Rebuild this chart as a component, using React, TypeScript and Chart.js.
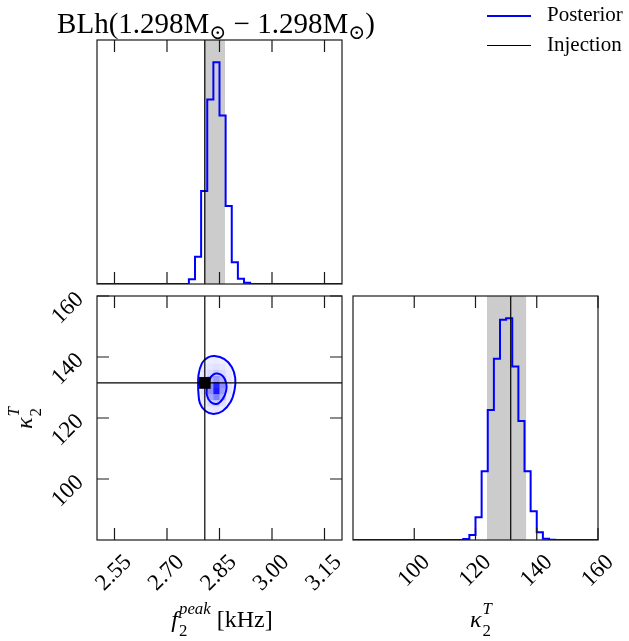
import React, { useEffect, useRef } from "react";
import { Chart, registerables } from "chart.js";

Chart.register(...registerables);

const W = 629;
const H = 641;
const SERIF = "'Liberation Serif', 'DejaVu Serif', serif";
const BLUE = "#0000ff";

// ---- axes ----
const F_RANGE = [2.5, 3.2];
const K_RANGE = [80, 160];
const F_TICKS = [2.55, 2.7, 2.85, 3.0, 3.15];
const F_TICK_LABELS = ["2.55", "2.70", "2.85", "3.00", "3.15"];
const K_TICKS = [100, 120, 140, 160];
const K_TICK_LABELS = ["100", "120", "140", "160"];

// ---- 1D posterior histograms ----
const F_BIN_EDGES = [2.7625, 2.78, 2.7975, 2.815, 2.8325, 2.85, 2.8675, 2.885, 2.9025, 2.92, 2.9375];
const F_COUNTS = [14, 82, 279, 554, 666, 506, 234, 65, 16, 4];
const K_BIN_EDGES = [116, 118, 120, 122, 124, 126, 128, 130, 132, 134, 136, 138, 140, 142, 144, 146];
const K_COUNTS = [3, 15, 68, 205, 388, 541, 657, 662, 518, 355, 205, 86, 23, 4, 1];

// ---- injection & credible intervals ----
const INJECTION_F = 2.808;
const INJECTION_K = 131.5;
const F_INTERVAL = [2.806, 2.866];
const K_INTERVAL = [123.7, 136.6];

// ---- 2D density cells (rows from kappa 120 upward) ----
const DENSITY_F_EDGES = [2.78, 2.7975, 2.815, 2.8325, 2.85, 2.8675, 2.885, 2.9025];
const DENSITY_K_EDGES = [120, 122, 124, 126, 128, 130, 132, 134, 136, 138, 140, 142];
const DENSITY = [
  [0.02, 0.03, 0.05, 0.05, 0.04, 0.02, 0.01],
  [0.03, 0.05, 0.08, 0.1, 0.07, 0.04, 0.02],
  [0.04, 0.08, 0.15, 0.2, 0.12, 0.06, 0.03],
  [0.05, 0.1, 0.35, 0.5, 0.3, 0.08, 0.03],
  [0.06, 0.12, 0.45, 0.9, 0.4, 0.1, 0.04],
  [0.06, 0.12, 0.45, 0.85, 0.45, 0.1, 0.04],
  [0.06, 0.12, 0.3, 0.4, 0.3, 0.1, 0.04],
  [0.05, 0.1, 0.15, 0.2, 0.15, 0.08, 0.03],
  [0.04, 0.08, 0.1, 0.12, 0.1, 0.06, 0.03],
  [0.03, 0.05, 0.07, 0.08, 0.06, 0.04, 0.02],
  [0.02, 0.03, 0.04, 0.04, 0.03, 0.02, 0.01],
];

// ---- contours ----
const OUTER_F = [2.789, 2.79, 2.8, 2.816, 2.836, 2.864, 2.885, 2.895, 2.893, 2.882, 2.859, 2.833, 2.81, 2.794];
const OUTER_K = [129.2, 134.1, 138.0, 139.8, 140.3, 139.3, 136.7, 133.1, 129.2, 125.3, 122.3, 121.3, 122.3, 124.9];
const INNER_F = [2.814, 2.822, 2.833, 2.844, 2.859, 2.869, 2.869, 2.859, 2.842, 2.824, 2.814];
const INNER_K = [130.2, 132.8, 134.3, 134.6, 133.8, 131.5, 128.9, 126.2, 124.6, 125.3, 127.5];

// ---- layout (pixels) ----
const PANEL_A = { left: 97, top: 40, right: 342, bottom: 284 };
const PANEL_B = { left: 97, top: 296, right: 342, bottom: 540 };
const PANEL_C = { left: 353, top: 296, right: 598, bottom: 540 };
const AXIS_BAND = 88; // room reserved for rotated tick labels
const TICK_LEN = 12;
const TICK_FONT = { family: SERIF, size: 23 };

const pad = (p: any, xAxis = false, yAxis = false) => ({
  left: p.left - (yAxis ? AXIS_BAND : 0),
  top: p.top,
  right: W - p.right,
  bottom: H - p.bottom - (xAxis ? AXIS_BAND : 0),
});

function stepPoints(edges: number[], counts: number[], lo: number, hi: number) {
  const pts: any[] = [{ x: lo, y: 0 }];
  counts.forEach((c, i) => pts.push({ x: edges[i], y: c }));
  pts.push({ x: edges[edges.length - 1], y: 0 });
  pts.push({ x: hi, y: 0 });
  return pts;
}

function closed(fs: number[], ks: number[]) {
  const pts = fs.map((f, i) => ({ x: f, y: ks[i] }));
  pts.push({ ...pts[0] });
  return pts;
}

const fixedFit = (scale: any) => {
  if (scale.isHorizontal()) scale.height = AXIS_BAND;
  else scale.width = AXIS_BAND;
  scale.paddingLeft = 0;
  scale.paddingRight = 0;
  scale.paddingTop = 0;
  scale.paddingBottom = 0;
};

function frame(id: string, xTicks: number[] | null, yTicks: number[] | null) {
  return {
    id,
    afterDraw(chart: any) {
      const { ctx, chartArea: a, scales } = chart;
      ctx.save();
      ctx.strokeStyle = "#1a1a1a";
      ctx.lineWidth = 1.2;
      ctx.beginPath();
      if (xTicks) {
        for (const v of xTicks) {
          const px = scales.x.getPixelForValue(v);
          ctx.moveTo(px, a.top);
          ctx.lineTo(px, a.top + TICK_LEN);
          ctx.moveTo(px, a.bottom);
          ctx.lineTo(px, a.bottom - TICK_LEN);
        }
      }
      if (yTicks) {
        for (const v of yTicks) {
          const py = scales.y.getPixelForValue(v);
          ctx.moveTo(a.left, py);
          ctx.lineTo(a.left + TICK_LEN, py);
          ctx.moveTo(a.right, py);
          ctx.lineTo(a.right - TICK_LEN, py);
        }
      }
      ctx.stroke();
      ctx.strokeRect(a.left, a.top, a.right - a.left, a.bottom - a.top);
      ctx.restore();
    },
  };
}

const densityPlugin = {
  id: "density",
  beforeDatasetsDraw(chart: any) {
    const { ctx, scales } = chart;
    const x = scales.x;
    const y = scales.y;
    ctx.save();
    ctx.beginPath();
    OUTER_F.forEach((f, i) => {
      const px = x.getPixelForValue(f);
      const py = y.getPixelForValue(OUTER_K[i]);
      if (i === 0) ctx.moveTo(px, py);
      else ctx.lineTo(px, py);
    });
    ctx.closePath();
    ctx.clip();
    DENSITY.forEach((row, j) =>
      row.forEach((v, i) => {
        const x0 = x.getPixelForValue(DENSITY_F_EDGES[i]);
        const x1 = x.getPixelForValue(DENSITY_F_EDGES[i + 1]);
        const y0 = y.getPixelForValue(DENSITY_K_EDGES[j]);
        const y1 = y.getPixelForValue(DENSITY_K_EDGES[j + 1]);
        const c = Math.round(255 * (1 - v));
        ctx.fillStyle = `rgb(${c},${c},255)`;
        ctx.fillRect(x0, y1, x1 - x0 + 0.5, y0 - y1 + 0.5);
      })
    );
    ctx.restore();
  },
};

const baseOptions = (padding: any, scales: any) => ({
  responsive: false,
  animation: false as const,
  devicePixelRatio: 1,
  events: [],
  layout: { padding, autoPadding: false },
  plugins: { legend: { display: false }, tooltip: { enabled: false } },
  scales,
});

const hiddenLinear = (min: number, max: number) => ({ type: "linear", min, max, display: false });

const labeledAxis = (min: number, max: number, ticks: number[], labels: string[], extra: any) => ({
  type: "linear",
  min,
  max,
  display: true,
  grid: { display: false, drawTicks: false },
  border: { display: false },
  afterBuildTicks: (s: any) => {
    s.ticks = ticks.map((value) => ({ value }));
  },
  afterFit: fixedFit,
  ticks: {
    autoSkip: false,
    minRotation: 45,
    maxRotation: 45,
    color: "#000",
    font: TICK_FONT,
    callback: (_v: any, i: number) => labels[i],
    ...extra,
  },
});

const line = (data: any[], color: string, width: number, order: number, more: any = {}) => ({
  data,
  borderColor: color,
  borderWidth: width,
  pointRadius: 0,
  fill: false,
  tension: 0,
  order,
  ...more,
});

function configA(): any {
  const yMax = 1.1 * Math.max(...F_COUNTS);
  return {
    type: "line",
    data: {
      datasets: [
        line([{ x: F_INTERVAL[0], y: yMax }, { x: F_INTERVAL[1], y: yMax }], "rgba(0,0,0,0)", 0, 3, {
          fill: "origin",
          backgroundColor: "#cccccc",
        }),
        line(stepPoints(F_BIN_EDGES, F_COUNTS, F_RANGE[0], F_RANGE[1]), BLUE, 2, 1, { stepped: "before" }),
        line([{ x: INJECTION_F, y: 0 }, { x: INJECTION_F, y: yMax }], "#000", 1.2, 0),
      ],
    },
    options: baseOptions(pad(PANEL_A), {
      x: hiddenLinear(F_RANGE[0], F_RANGE[1]),
      y: hiddenLinear(0, yMax),
    }),
    plugins: [frame("frameA", F_TICKS, null)],
  };
}

function configB(): any {
  return {
    type: "line",
    data: {
      datasets: [
        line(closed(OUTER_F, OUTER_K), BLUE, 2, 3, { tension: 0.4 }),
        line(closed(INNER_F, INNER_K), BLUE, 2, 3, { tension: 0.4 }),
        line([{ x: INJECTION_F, y: K_RANGE[0] }, { x: INJECTION_F, y: K_RANGE[1] }], "#000", 1.2, 1),
        line([{ x: F_RANGE[0], y: INJECTION_K }, { x: F_RANGE[1], y: INJECTION_K }], "#000", 1.2, 1),
        line([{ x: INJECTION_F, y: INJECTION_K }], "#000", 0, 0, {
          showLine: false,
          pointRadius: 8.3,
          pointStyle: "rect",
          pointBackgroundColor: "#000",
          pointBorderWidth: 0,
        }),
      ],
    },
    options: baseOptions(pad(PANEL_B, true, true), {
      x: labeledAxis(F_RANGE[0], F_RANGE[1], F_TICKS, F_TICK_LABELS, { padding: 9, labelOffset: 13.7 }),
      y: labeledAxis(K_RANGE[0], K_RANGE[1], K_TICKS, K_TICK_LABELS, { padding: 17, labelOffset: 0 }),
    }),
    plugins: [densityPlugin, frame("frameB", F_TICKS, K_TICKS)],
  };
}

function configC(): any {
  const yMax = 1.1 * Math.max(...K_COUNTS);
  return {
    type: "line",
    data: {
      datasets: [
        line([{ x: K_INTERVAL[0], y: yMax }, { x: K_INTERVAL[1], y: yMax }], "rgba(0,0,0,0)", 0, 3, {
          fill: "origin",
          backgroundColor: "#cccccc",
        }),
        line(stepPoints(K_BIN_EDGES, K_COUNTS, K_RANGE[0], K_RANGE[1]), BLUE, 2, 1, { stepped: "before" }),
        line([{ x: INJECTION_K, y: 0 }, { x: INJECTION_K, y: yMax }], "#000", 1.2, 0),
      ],
    },
    options: baseOptions(pad(PANEL_C, true, false), {
      x: labeledAxis(K_RANGE[0], K_RANGE[1], K_TICKS, K_TICK_LABELS, { padding: 9, labelOffset: 12 }),
      y: hiddenLinear(0, yMax),
    }),
    plugins: [frame("frameC", K_TICKS, null)],
  };
}

// text helpers
const BASE = 0.8375; // baseline offset / font size for line-height 1
function textStyle(size: number, baselineY: number, left: number, center = false): React.CSSProperties {
  return {
    position: "absolute",
    left,
    top: baselineY - BASE * size,
    fontSize: size,
    lineHeight: 1,
    whiteSpace: "nowrap",
    transform: center ? "translateX(-50%)" : undefined,
    color: "#000",
  };
}

function Scripts({ sup, sub, size }: { sup: React.ReactNode; sub: React.ReactNode; size: number }) {
  const s = size * 0.7;
  return (
    <span style={{ position: "relative", display: "inline-block", fontSize: s, lineHeight: 1, marginLeft: size * 0.04 }}>
      <span style={{ position: "relative", top: -size * 0.55 }}>{sup}</span>
      <span style={{ position: "absolute", left: 0, top: size * 0.36 }}>{sub}</span>
    </span>
  );
}

export default function App() {
  const refA = useRef<HTMLCanvasElement>(null);
  const refB = useRef<HTMLCanvasElement>(null);
  const refC = useRef<HTMLCanvasElement>(null);

  useEffect(() => {
    const charts = [
      new Chart(refA.current as HTMLCanvasElement, configA()),
      new Chart(refB.current as HTMLCanvasElement, configB()),
      new Chart(refC.current as HTMLCanvasElement, configC()),
    ];
    return () => charts.forEach((c) => c.destroy());
  }, []);

  const canvasStyle: React.CSSProperties = { position: "absolute", left: 0, top: 0 };
  const sun = <span style={{ fontSize: "0.7em", position: "relative", top: "0.3em" }}>⊙</span>;

  return (
    <div
      style={{
        position: "absolute",
        left: 0,
        top: 0,
        width: W,
        height: H,
        background: "#fff",
        overflow: "hidden",
        fontFamily: SERIF,
      }}
    >
      <canvas ref={refA} width={W} height={H} style={canvasStyle} />
      <canvas ref={refB} width={W} height={H} style={canvasStyle} />
      <canvas ref={refC} width={W} height={H} style={canvasStyle} />

      <div style={textStyle(29, 33, 216, true)}>
        BLh(1.298M{sun} − 1.298M{sun})
      </div>

      <div style={{ position: "absolute", left: 487, top: 14.7, width: 44, height: 2, background: BLUE }} />
      <div style={{ position: "absolute", left: 487, top: 44.5, width: 44, height: 1.2, background: "#000" }} />
      <div style={textStyle(21, 22, 547)}>Posterior</div>
      <div style={textStyle(21, 52, 547)}>Injection</div>

      <div style={textStyle(24, 627, 222, true)}>
        <i>f</i>
        <Scripts size={24} sup={<i>peak</i>} sub="2" />
        {"\u00a0"}[kHz]
      </div>
      <div style={textStyle(24, 627, 481, true)}>
        <i>κ</i>
        <Scripts size={24} sup={<i>T</i>} sub="2" />
      </div>
      <div
        style={{
          ...textStyle(24, 418 + BASE * 24 - 12, 24, false),
          transform: "translate(-50%, 0) rotate(-90deg)",
          transformOrigin: "50% 50%",
        }}
      >
        <i>κ</i>
        <Scripts size={24} sup={<i>T</i>} sub="2" />
      </div>
    </div>
  );
}
